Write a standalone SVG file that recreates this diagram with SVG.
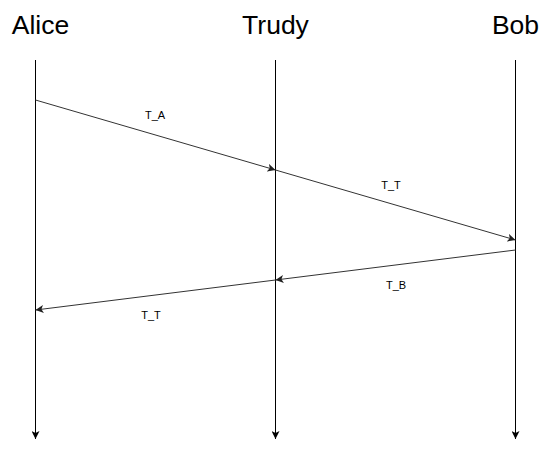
<svg xmlns="http://www.w3.org/2000/svg" width="550" height="449" viewBox="0 0 550 449">
<style>
.title{font-family:"Liberation Sans",Arial,sans-serif;font-size:26.5px;fill:#000;text-anchor:middle}
.lbl{font-family:"Liberation Sans",Arial,sans-serif;font-size:11px;fill:#000;text-anchor:middle}
.life{stroke:#000;stroke-width:1;fill:none}
.msg{stroke:#333;stroke-width:1;fill:none}
</style>
<defs>
<marker id="ah" viewBox="0 0 10 10" refX="10" refY="5" markerWidth="8" markerHeight="8" markerUnits="userSpaceOnUse" orient="auto">
<path d="M0,0 L10,5 L0,10 L2.5,5 Z" fill="#000"/>
</marker>
<marker id="ahg" viewBox="0 0 10 10" refX="10" refY="5" markerWidth="8" markerHeight="8" markerUnits="userSpaceOnUse" orient="auto">
<path d="M0,0 L10,5 L0,10 L2.5,5 Z" fill="#222"/>
</marker>
</defs>
<g id="alice"><text class="title" x="40.5" y="34">Alice</text></g>
<g id="trudy"><text class="title" x="275.5" y="34">Trudy</text></g>
<g id="bob"><text class="title" x="515.5" y="34">Bob</text></g>
<g id="connectors">
<line class="life" x1="35.5" y1="60" x2="35.5" y2="439" marker-end="url(#ah)"/>
<line class="life" x1="275.5" y1="60" x2="275.5" y2="439" marker-end="url(#ah)"/>
<line class="life" x1="515.5" y1="60" x2="515.5" y2="439" marker-end="url(#ah)"/>
<line class="msg" x1="35.5" y1="100" x2="275.5" y2="170" marker-end="url(#ahg)"/>
<line class="msg" x1="275.5" y1="170" x2="515.5" y2="240" marker-end="url(#ahg)"/>
<line class="msg" x1="515.5" y1="250" x2="275.5" y2="280" marker-end="url(#ahg)"/>
<line class="msg" x1="275.5" y1="280" x2="35.5" y2="310" marker-end="url(#ahg)"/>
<text class="lbl" x="155" y="119">T_A</text>
<text class="lbl" x="391" y="189">T_T</text>
<text class="lbl" x="396" y="289">T_B</text>
<text class="lbl" x="151" y="319">T_T</text>
</g>
</svg>
